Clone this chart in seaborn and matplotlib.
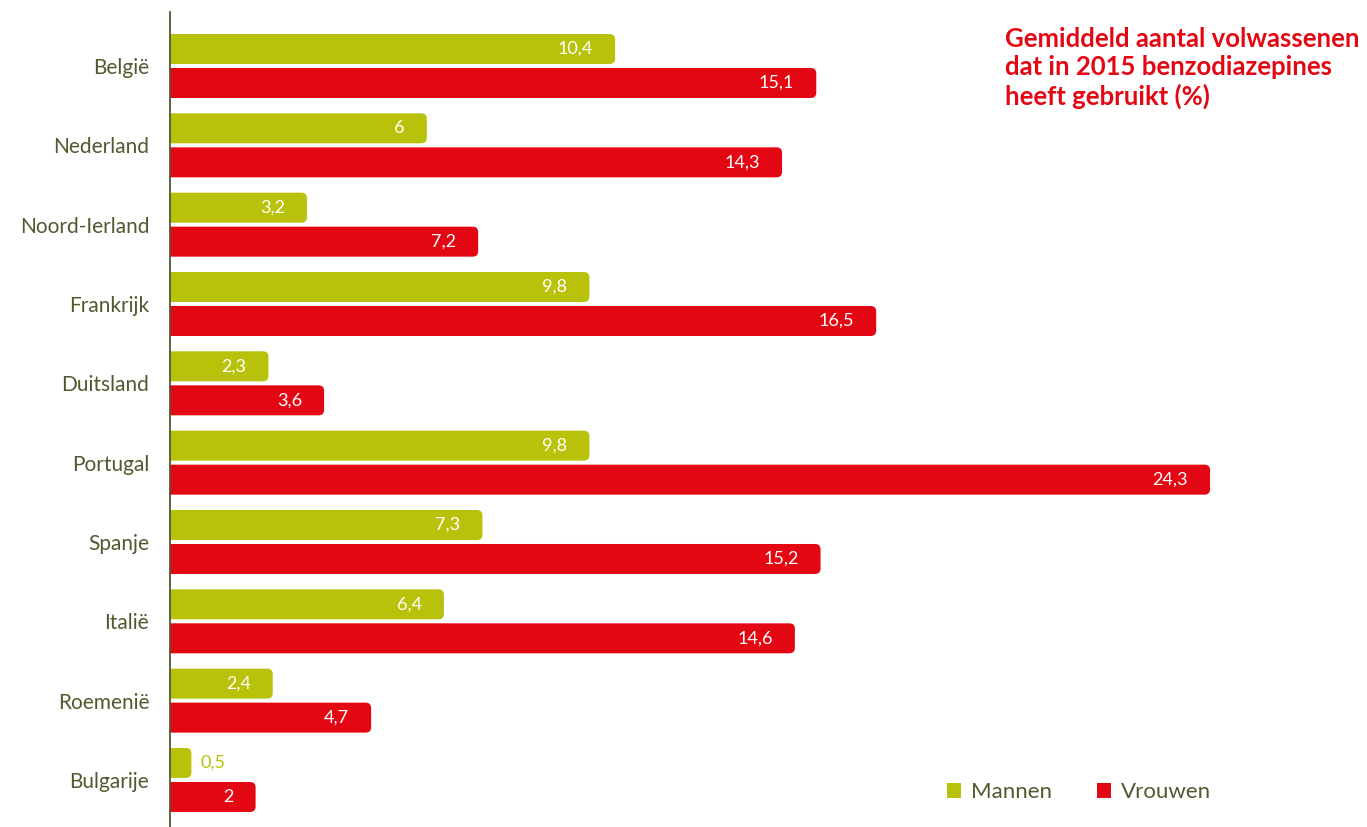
import numpy as np
import pandas as pd
import seaborn as sns
import matplotlib
matplotlib.use("Agg")
import matplotlib.pyplot as plt
from matplotlib.path import Path
from matplotlib.patches import PathPatch, Patch

# Gemiddeld aantal volwassenen dat in 2015 benzodiazepines heeft gebruikt (%)
landen = ["België", "Nederland", "Noord-Ierland", "Frankrijk", "Duitsland",
          "Portugal", "Spanje", "Italië", "Roemenië", "Bulgarije"]
mannen = [10.4, 6.0, 3.2, 9.8, 2.3, 9.8, 7.3, 6.4, 2.4, 0.5]
vrouwen = [15.1, 14.3, 7.2, 16.5, 3.6, 24.3, 15.2, 14.6, 4.7, 2.0]
groepen = ["Mannen", "Vrouwen"]
titel = "Gemiddeld aantal volwassenen\ndat in 2015 benzodiazepines\nheeft gebruikt (%)"

GROEN = "#b9c20a"
ROOD = "#e30613"
TEKST = "#4f5a2e"

df = pd.DataFrame({
    "land": landen * 2,
    "groep": [groepen[0]] * len(landen) + [groepen[1]] * len(landen),
    "waarde": mannen + vrouwen,
})

sns.set_theme(style="white")
plt.rcParams["font.family"] = ["Lato", "DejaVu Sans"]

fig = plt.figure(figsize=(13.67, 8.27), dpi=100)
W, H = 1367, 827
ax = fig.add_axes([170 / W, 0, (W - 170) / W, (827 - 12) / H])

sns.barplot(data=df, x="waarde", y="land", hue="groep", orient="h",
            palette=[GROEN, ROOD], width=0.857, gap=0.118, legend=False,
            saturation=1, ax=ax)

px_x = 42.8   # pixels per percent
px_y = 79.33  # pixels per country row
ax.set_xlim(0, (W - 170) / px_x)
ax.set_ylim((827 - 66) / px_y, -(66 - 12) / px_y)

# rounded right-hand corners for every bar
rx = 5.5 / px_x
ry = 5.5 / px_y
for p in list(ax.patches):
    x0, y0 = p.get_x(), p.get_y()
    w, h = p.get_width(), p.get_height()
    if w <= 0:
        continue
    fc = p.get_facecolor()
    p.set_visible(False)
    x1, y1 = x0 + w, y0 + h
    r = min(rx, w)
    verts = [(x0, y0), (x1 - r, y0), (x1, y0), (x1, y0 + ry),
             (x1, y1 - ry), (x1, y1), (x1 - r, y1), (x0, y1), (x0, y0)]
    codes = [Path.MOVETO, Path.LINETO, Path.CURVE3, Path.CURVE3,
             Path.LINETO, Path.CURVE3, Path.CURVE3, Path.LINETO, Path.CLOSEPOLY]
    ax.add_patch(PathPatch(Path(verts, codes), facecolor=fc, edgecolor="none"))

    lbl = f"{w:g}".replace(".", ",")
    yc = y0 + h / 2
    if w * px_x > 45:
        ax.text(x1 - 22 / px_x, yc, lbl, ha="right", va="center",
                color="white", fontsize=13)
    else:
        ax.text(x1 + 9 / px_x, yc, lbl, ha="left", va="center",
                color=fc, fontsize=13)

for s in ["top", "right", "bottom"]:
    ax.spines[s].set_visible(False)
ax.spines["left"].set_color(TEKST)
ax.spines["left"].set_linewidth(1.3)
ax.set_xticks([])
ax.set_xlabel("")
ax.set_ylabel("")
ax.tick_params(axis="y", length=0, pad=15, labelsize=15, labelcolor=TEKST)

fig.text(1005 / W, 1 - 27 / H, titel, ha="left", va="top", color=ROOD,
         fontsize=18.5, fontweight="bold", linespacing=1.22)

handles = [Patch(facecolor=c, edgecolor="none") for c in (GROEN, ROOD)]
fig.legend(handles, groepen, loc="center left",
           bbox_to_anchor=(927 / W, 1 - 792 / H), ncol=2, frameon=False,
           handlelength=0.65, handleheight=0.65, handletextpad=0.45,
           columnspacing=2.0, fontsize=16, labelcolor=TEKST)

fig.savefig("out.png", dpi=100, facecolor="white")
